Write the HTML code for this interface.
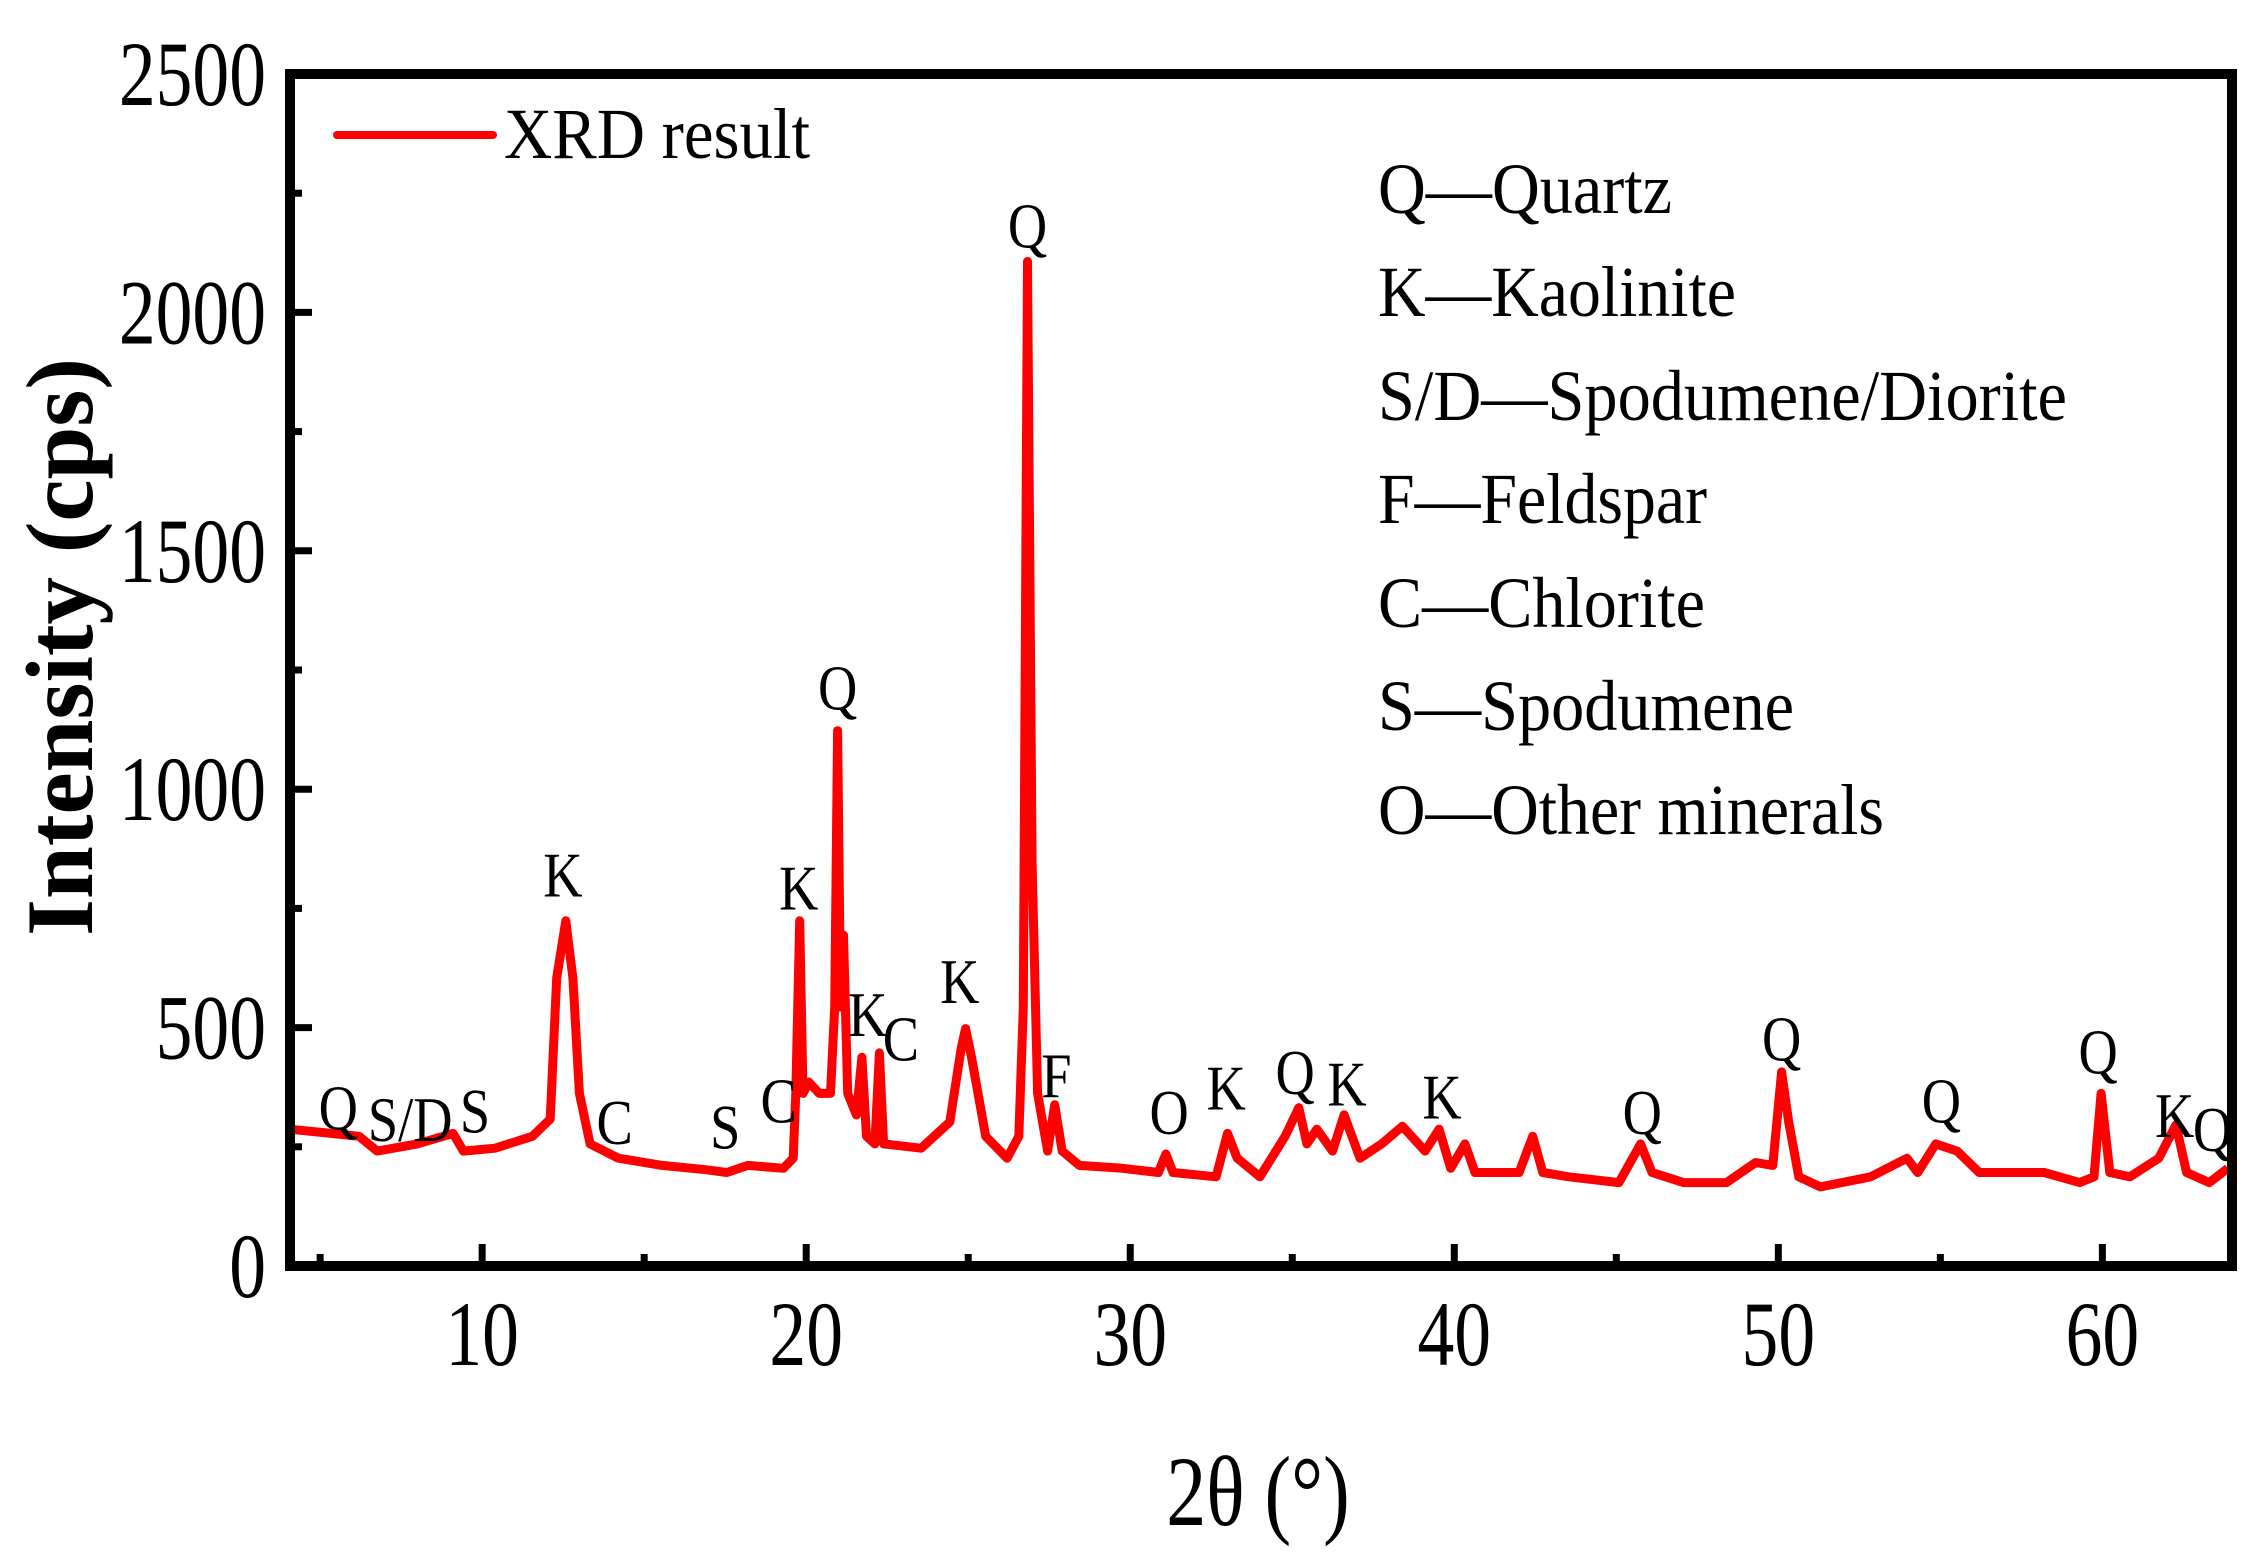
<!DOCTYPE html>
<html><head><meta charset="utf-8"><style>
html,body{margin:0;padding:0;background:#fff;}
svg{display:block;font-family:"Liberation Serif",serif;}
</style></head><body>
<svg id="chart" width="2256" height="1564" viewBox="0 0 2256 1564">
<rect x="0" y="0" width="2256" height="1564" fill="#fff"/>
<g id="grid-ticks"></g>
<path id="series" fill="none" stroke="#ff0000" stroke-width="9" stroke-linejoin="round"/>
<g id="peaks"></g>
<rect x="290" y="74" width="1942" height="1192" fill="none" stroke="#000" stroke-width="10"/>
<g id="xlabels"></g>
<g id="ylabels"></g>
<text x="0" y="0" transform="translate(1258,1525) scale(0.8,1)" text-anchor="middle" font-size="100">2θ (°)</text>
<text x="0" y="0" transform="translate(92,647) rotate(-90)" text-anchor="middle" font-size="95" font-weight="bold">Intensity (cps)</text>
<line x1="337" y1="135" x2="493" y2="135" stroke="#ff0000" stroke-width="8" stroke-linecap="round"/>
<text x="504" y="158" font-size="72" textLength="306" lengthAdjust="spacingAndGlyphs">XRD result</text>
<g font-size="72">
<text x="1378" y="213" textLength="294" lengthAdjust="spacingAndGlyphs">Q—Quartz</text>
<text x="1378" y="316" textLength="358" lengthAdjust="spacingAndGlyphs">K—Kaolinite</text>
<text x="1378" y="420" textLength="689" lengthAdjust="spacingAndGlyphs">S/D—Spodumene/Diorite</text>
<text x="1378" y="523" textLength="329" lengthAdjust="spacingAndGlyphs">F—Feldspar</text>
<text x="1378" y="627" textLength="327" lengthAdjust="spacingAndGlyphs">C—Chlorite</text>
<text x="1378" y="730" textLength="416" lengthAdjust="spacingAndGlyphs">S—Spodumene</text>
<text x="1378" y="834" textLength="506" lengthAdjust="spacingAndGlyphs">O—Other minerals</text>
</g>
</svg>
<script>
const twoTheta = [4.05,5.34,6.2,6.76,8.0,9.1,9.42,10.4,11.55,12.1,12.3,12.58,12.8,13.0,13.33,14.2,15.55,16.9,17.55,18.2,19.3,19.6,19.68,19.8,19.9,20.08,20.4,20.75,20.88,20.97,21.06,21.15,21.28,21.55,21.72,21.86,22.12,22.26,22.39,23.55,24.43,24.79,24.92,25.1,25.54,26.2,26.56,26.7,26.83,26.97,27.14,27.45,27.67,27.9,28.43,29.76,30.87,31.1,31.32,32.65,33.0,33.3,34.0,34.78,35.2,35.45,35.76,36.24,36.6,37.09,37.76,38.4,39.1,39.53,39.89,40.33,40.64,42.0,42.42,42.73,43.53,45.08,45.75,46.1,47.08,48.4,49.3,49.83,50.1,50.32,50.63,51.3,52.85,53.97,54.3,54.86,55.52,56.2,58.2,59.3,59.74,59.96,60.23,60.85,61.74,62.27,62.6,63.3,63.87];
const intensity = [287,278,272,241,256,278,241,247,272,308,604,724,604,362,256,226,211,202,196,211,205,226,362,724,362,386,362,362,543,1123,543,694,362,317,438,272,256,447,256,247,302,459,498,438,272,226,272,543,2107,845,362,241,338,241,211,205,196,235,196,187,278,226,187,272,332,256,287,241,317,226,256,293,241,287,205,256,196,196,272,196,187,175,256,196,175,175,217,211,407,302,187,166,187,226,196,256,241,196,196,175,187,362,196,187,226,296,196,175,205];
const peakText = ["Q","S/D","S","K","C","S","C","K","Q","K","C","K","Q","F","O","K","Q","K","K","Q","Q","Q","Q","K","Q"];
const peakX = [5.56,7.78,9.78,12.49,14.09,17.5,19.15,19.77,20.97,21.9,22.92,24.74,26.83,27.72,31.2,32.96,35.09,36.69,39.62,45.8,50.1,55.03,59.87,62.23,63.4];
const peakY = [332,308,326,821,302,293,347,794,1213,528,477,598,2182,401,323,374,407,383,356,323,477,347,450,317,287];
const xTicks = [10,20,30,40,50,60];
const xMinorTicks = [5,15,25,35,45,55];
const yTicks = [0,500,1000,1500,2000,2500];
const yMinorTicks = [250,750,1250,1750,2250];

const NS = "http://www.w3.org/2000/svg";
const X0 = 290, X1 = 2232, Y0 = 1266, Y1 = 74;
const xMin = 4.07, xMax = 64.0, yMin = 0, yMax = 2500;
function sx(v){ return X0 + (v - xMin) / (xMax - xMin) * (X1 - X0); }
function sy(v){ return Y0 - (v - yMin) / (yMax - yMin) * (Y0 - Y1); }

let d = "";
for (let i = 0; i < twoTheta.length; i++) {
  d += (i ? "L" : "M") + sx(twoTheta[i]).toFixed(1) + "," + sy(intensity[i]).toFixed(1);
}
document.getElementById("series").setAttribute("d", d);

const ticks = document.getElementById("grid-ticks");
function tick(x1,y1,x2,y2,w){
  const l = document.createElementNS(NS,"line");
  l.setAttribute("x1",x1); l.setAttribute("y1",y1); l.setAttribute("x2",x2); l.setAttribute("y2",y2);
  l.setAttribute("stroke","#000"); l.setAttribute("stroke-width",w);
  
  
  ticks.appendChild(l);
}
xTicks.forEach(v => tick(sx(v), Y0, sx(v), Y0-22, 7));
xMinorTicks.forEach(v => tick(sx(v), Y0, sx(v), Y0-12, 7));
yTicks.forEach(v => tick(X0, sy(v), X0+22, sy(v), 7));
yMinorTicks.forEach(v => tick(X0, sy(v), X0+12, sy(v), 7));

const xl = document.getElementById("xlabels");
xTicks.forEach(v => {
  const t = document.createElementNS(NS,"text");
  t.setAttribute("transform","translate(" + sx(v) + ",1365) scale(0.8,1)");
  t.setAttribute("text-anchor","middle");
  t.setAttribute("font-size","92");
  t.textContent = v;
  
  
  xl.appendChild(t);
});
const yl = document.getElementById("ylabels");
yTicks.forEach(v => {
  const t = document.createElementNS(NS,"text");
  t.setAttribute("transform","translate(266," + (sy(v)+31) + ") scale(0.8,1)");
  t.setAttribute("text-anchor","end");
  t.setAttribute("font-size","92");
  t.textContent = v;
  
  
  yl.appendChild(t);
});
const pk = document.getElementById("peaks");
peakText.forEach((s,i) => {
  const t = document.createElementNS(NS,"text");
  t.setAttribute("transform","translate(" + sx(peakX[i]) + "," + (sy(peakY[i])+22) + ") scale(0.85,1)");
  t.setAttribute("text-anchor","middle");
  t.setAttribute("font-size","64");
  t.textContent = s;
  
  
  pk.appendChild(t);
});
</script>
</body></html>
